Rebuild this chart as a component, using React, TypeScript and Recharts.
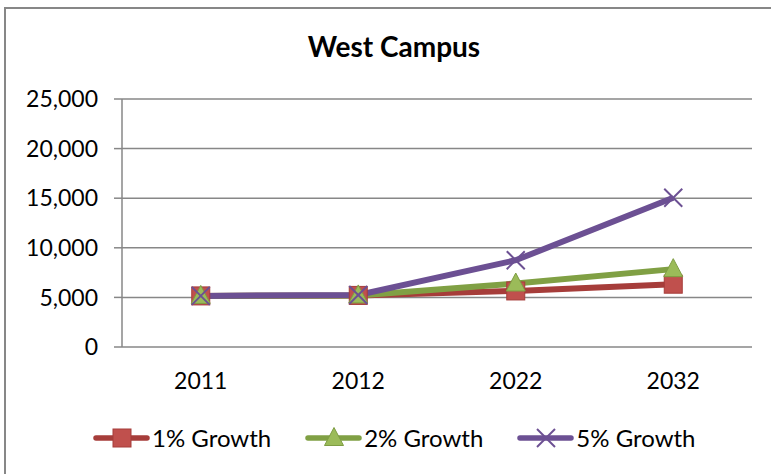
import { LineChart, Line, XAxis, YAxis, CartesianGrid } from 'recharts';

const YEARS    = ['2011', '2012', '2022', '2032'];
const GROWTH_1 = [5150, 5200, 5650, 6330];
const GROWTH_2 = [5150, 5200, 6400, 7850];
const GROWTH_5 = [5150, 5250, 8750, 15050];
const Y_TICKS  = [0, 5000, 10000, 15000, 20000, 25000];
const SLOTS    = [0, 1, 2, 3, 4];

const AXIS   = '#878787';
const FONT   = 'Lato, "Open Sans", sans-serif';
const RED    = { line: '#A63D3A', fill: '#C0504D', edge: '#A63D3A' };
const GREEN  = { line: '#80A044', fill: '#9BBB59', edge: '#7E9D43' };
const PURPLE = { line: '#6C5093', fill: '#6C5093', edge: '#6C5093' };

const data = YEARS.map((year, i) => ({
  year,
  g1: GROWTH_1[i],
  g2: GROWTH_2[i],
  g5: GROWTH_5[i],
}));

type DotProps = { cx?: number; cy?: number; index?: number };

const SquareMark = ({ cx = 0, cy = 0, size = 18 }: { cx?: number; cy?: number; size?: number }) => (
  <rect x={cx - size / 2} y={cy - size / 2} width={size} height={size}
    fill={RED.fill} stroke={RED.edge} strokeWidth={1} />
);

const TriangleMark = ({ cx = 0, cy = 0 }: { cx?: number; cy?: number }) => (
  <polygon points={`${cx},${cy - 10.5} ${cx + 9.5},${cy + 7.5} ${cx - 9.5},${cy + 7.5}`}
    fill={GREEN.fill} stroke={GREEN.edge} strokeWidth={1} />
);

const CrossMark = ({ cx = 0, cy = 0 }: { cx?: number; cy?: number }) => (
  <g stroke={PURPLE.fill} strokeWidth={2}>
    <line x1={cx - 9} y1={cy - 9} x2={cx + 9} y2={cy + 9} />
    <line x1={cx - 9} y1={cy + 9} x2={cx + 9} y2={cy - 9} />
  </g>
);

const legendItems = [
  { name: '1% Growth', color: RED.line, Mark: SquareMark },
  { name: '2% Growth', color: GREEN.line, Mark: TriangleMark },
  { name: '5% Growth', color: PURPLE.line, Mark: CrossMark },
];

function ChartLegend() {
  return (
    <div style={{ position: 'absolute', left: 93, top: 424, display: 'flex', gap: 34, alignItems: 'center' }}>
      {legendItems.map(({ name, color, Mark }) => (
        <div key={name} style={{ display: 'flex', alignItems: 'center' }}>
          <svg width={57} height={28} style={{ display: 'block' }}>
            <line x1={3} y1={14} x2={54} y2={14} stroke={color} strokeWidth={5.5} strokeLinecap="round" />
            <Mark cx={29} cy={14} />
          </svg>
          <span style={{ fontFamily: FONT, fontSize: 24, color: '#000', marginLeft: 2, lineHeight: '28px' }}>{name}</span>
        </div>
      ))}
    </div>
  );
}

export default function App() {
  return (
    <div style={{ position: 'fixed', left: 0, top: 0, width: 771, height: 474, overflow: 'hidden', background: '#fff' }}>
      <div style={{ position: 'absolute', left: 4, top: 7, width: 800, height: 500, border: `2px solid ${AXIS}` }} />

      <svg width={771} height={70} style={{ position: 'absolute', left: 0, top: 0 }}>
        <text x={394} y={57} textAnchor="middle" fontFamily={FONT} fontWeight={700} fontSize={28} fill="#000">
          West Campus
        </text>
      </svg>

      <div style={{ position: 'absolute', left: 0, top: 0 }}>
        <LineChart width={771} height={474} data={data} margin={{ top: 99, right: 19, bottom: 87, left: 0 }}>
          <CartesianGrid xAxisId="yr" vertical={false} stroke={AXIS} strokeWidth={1.5} />
          <XAxis xAxisId="slot" type="number" domain={[0, 4]} ticks={SLOTS} allowDataOverflow
            height={0} tickFormatter={() => ''} tickSize={6}
            axisLine={{ stroke: AXIS, strokeWidth: 1.5 }} tickLine={{ stroke: AXIS, strokeWidth: 1.5 }} />
          <XAxis xAxisId="yr" dataKey="year" scale="band" height={40}
            axisLine={false} tickLine={false} tickSize={6} tickMargin={20}
            tick={{ fontSize: 23, fill: '#000', fontFamily: FONT }} />
          <YAxis width={122} domain={[0, 25000]} ticks={Y_TICKS} tickSize={8} tickMargin={16}
            tickFormatter={(v: number) => v.toLocaleString('en-US')}
            axisLine={{ stroke: AXIS, strokeWidth: 1.5 }} tickLine={{ stroke: AXIS, strokeWidth: 1.5 }}
            tick={{ fontSize: 23, fill: '#000', fontFamily: FONT }} />
          <Line xAxisId="yr" dataKey="g1" name="1% Growth" stroke={RED.line} strokeWidth={6}
            isAnimationActive={false}
            dot={(p: DotProps) => <SquareMark key={`g1-${p.index}`} cx={p.cx} cy={p.cy} />} />
          <Line xAxisId="yr" dataKey="g2" name="2% Growth" stroke={GREEN.line} strokeWidth={6}
            isAnimationActive={false}
            dot={(p: DotProps) => <TriangleMark key={`g2-${p.index}`} cx={p.cx} cy={p.cy} />} />
          <Line xAxisId="yr" dataKey="g5" name="5% Growth" stroke={PURPLE.line} strokeWidth={6}
            isAnimationActive={false}
            dot={(p: DotProps) => <CrossMark key={`g5-${p.index}`} cx={p.cx} cy={p.cy} />} />
        </LineChart>
      </div>

      <ChartLegend />
    </div>
  );
}
